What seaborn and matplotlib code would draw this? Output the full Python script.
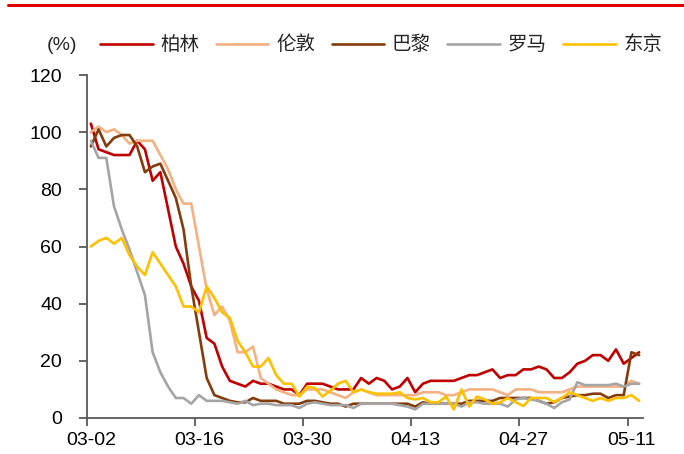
import numpy as np
import pandas as pd
import matplotlib
matplotlib.use("Agg")
import matplotlib.pyplot as plt
from matplotlib.lines import Line2D
import seaborn as sns

# Daily mobility index (% of normal), 03-02 .. 05-12
cities = ["柏林", "伦敦", "巴黎", "罗马", "东京"]
berlin = [103, 94, 93, 92, 92, 92, 97, 94, 83, 86,
          73, 60, 54, 46, 41, 28, 26, 18, 13, 12,
          11, 13, 12, 12, 11, 10, 10, 8, 12, 12,
          12, 11, 10, 10, 10, 14, 12, 14, 13, 10,
          11, 14, 9, 12, 13, 13, 13, 13, 14, 15,
          15, 16, 17, 14, 15, 15, 17, 17, 18, 17,
          14, 14, 16, 19, 20, 22, 22, 20, 24, 19,
          21, 23]
london = [100, 102, 100, 101, 99, 96, 97, 97, 97, 92,
          87, 80, 75, 75, 60, 45, 36, 39, 34, 23,
          23, 25, 14, 12, 10, 9, 8, 8, 10, 10,
          10, 9, 8, 7, 9, 10, 9, 8, 8, 8,
          8, 8, 8, 9, 9, 9, 8, 8, 9, 10,
          10, 10, 10, 9, 8, 10, 10, 10, 9, 9,
          9, 9, 10, 11, 11, 11, 11, 11, 11, 11,
          13, 12]
paris = [95, 101, 95, 98, 99, 99, 95, 86, 88, 89,
         83, 77, 66, 46, 30, 14, 8, 7, 6, 5.5,
         5.5, 7, 6, 6, 6, 5, 5, 5, 6, 6,
         5.5, 5, 5, 4, 5, 5, 5, 5, 5, 5,
         5, 5, 4, 5.5, 5, 5, 5, 5, 5, 6,
         6, 6, 6, 7, 7, 7, 7, 7, 6, 5,
         5.5, 7, 7.5, 8, 8, 8.5, 8.5, 7, 8, 8,
         23, 22]
rome = [97, 91, 91, 74, 66, 59, 51, 43, 23, 16,
        11, 7, 7, 5, 8, 6, 6, 6, 5.5, 5,
        6, 4.5, 5, 5, 4.5, 4.5, 4.5, 3.5, 5, 5.5,
        5, 4.5, 4.5, 4.5, 3.5, 5, 5, 5, 5, 5,
        4.5, 4, 3, 5, 5, 5, 5, 5, 4, 5.5,
        5.5, 5, 5, 5, 4, 6.5, 7, 6.5, 6, 5,
        3.5, 5.5, 6.5, 12.5, 11.5, 11.5, 11.5, 11.5, 12, 11,
        12, 12]
tokyo = [60, 62, 63, 61, 63, 57, 53, 50, 58, 54,
         50, 46, 39, 39, 37, 46, 42, 37, 35, 27,
         23, 18, 18, 21, 15, 12, 12, 7.5, 11, 10.5,
         7.5, 9.5, 12, 13, 9, 10, 9, 8.5, 8.5, 8.5,
         9, 7, 6.5, 7, 5.5, 5.5, 7.5, 3, 10, 4,
         7.5, 6.5, 5, 5.5, 7, 5.5, 4.2, 7, 7, 7,
         5.6, 7, 9, 8, 7, 6, 7, 6, 7, 7,
         8, 6]
tick_labels = ["03-02", "03-16", "03-30", "04-13", "04-27", "05-11"]

colors = ["#C00000", "#F4B183", "#843C0C", "#A5A5A5", "#FFC000"]
series = [berlin, london, paris, rome, tokyo]

n = len(berlin)
pos = np.arange(n) + 0.5  # each day sits in the middle of its slot
df = pd.DataFrame({
    "x": np.tile(pos, len(cities)),
    "city": np.repeat(cities, n),
    "value": np.concatenate([np.asarray(s, dtype=float) for s in series]),
})

sns.set_theme(style="ticks")
plt.rcParams["font.family"] = ["Liberation Sans", "Noto Sans CJK SC"]
plt.rcParams["font.size"] = 14

fig = plt.figure(figsize=(6.84, 4.54), dpi=100)
ax = fig.add_axes([87 / 684, 1 - 418 / 454, 556 / 684, 343 / 454])

sns.lineplot(data=df, x="x", y="value", hue="city", hue_order=cities,
             palette=dict(zip(cities, colors)), linewidth=1.9,
             legend=False, ax=ax, estimator=None, sort=True)
for ln in ax.lines:
    ln.set_solid_joinstyle("round")

ax.set_xlim(0, n)
ax.set_ylim(0, 120)
ax.set_xlabel("")
ax.set_ylabel("")
ax.set_yticks(range(0, 121, 20))

major = np.arange(0, n, 14)
ax.set_xticks(major)
ax.set_xticklabels([])
ax.set_xticks(major + 0.5, minor=True)
ax.set_xticklabels(tick_labels, minor=True)

axis_col = "#595959"
for side in ["top", "right"]:
    ax.spines[side].set_visible(False)
for side in ["left", "bottom"]:
    ax.spines[side].set_color(axis_col)
    ax.spines[side].set_linewidth(1.3)
ax.tick_params(axis="both", which="major", direction="out", length=6,
               width=1.3, color=axis_col, labelsize=14, labelcolor="black")
ax.tick_params(axis="y", pad=12)
ax.tick_params(axis="x", which="minor", length=0, pad=10,
               labelsize=14, labelcolor="black")

fig.text(47 / 684, 1 - 45 / 454, "(%)", ha="left", va="center", fontsize=14)
fig.legend(ax.lines[:len(cities)], cities, loc="center left",
           bbox_to_anchor=(100 / 684, 1 - 45 / 454), ncol=5, frameon=False,
           handlelength=2.7, handletextpad=0.4, columnspacing=0.85,
           borderpad=0, borderaxespad=0, fontsize=14)

fig.add_artist(Line2D([8 / 684, 1.0], [1 - 5 / 454, 1 - 5 / 454],
                      color="#E00000", linewidth=2.2,
                      transform=fig.transFigure))

fig.savefig("out.png", dpi=100, facecolor="white")
